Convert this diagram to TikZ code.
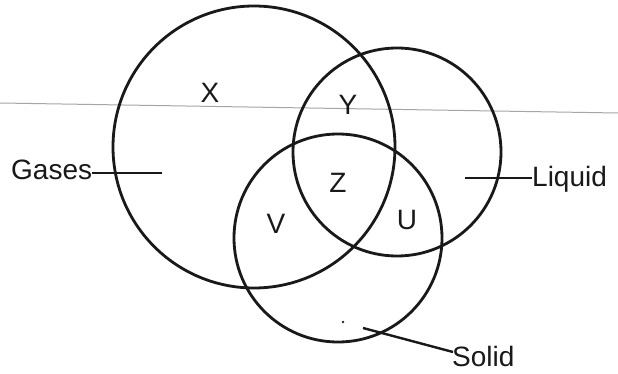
\documentclass[tikz,border=0pt]{standalone}
\usepackage{fontspec}
\setmainfont{Liberation Sans}
\begin{document}
\begin{tikzpicture}[x=1pt,y=-1pt,
  ring/.style={draw=black!90,line width=2.8pt},
  lbl/.style={font=\fontsize{28}{30}\selectfont,inner sep=0pt,text=black!90},
  reg/.style={font=\fontsize{28}{30}\selectfont,inner sep=0pt,text=black!90},
  lead/.style={draw=black!90,line width=2.4pt}]
\useasboundingbox (0,0) rectangle (618,374);
\fill[white] (0,0) rectangle (618,374);
% faint scan line
\draw[black!35,line width=1pt] (0,103) -- (618,113);
% circles
\draw[ring] (254,147) circle (141);
\draw[ring] (397,152) circle (104);
\draw[ring] (338,238) circle (104);
% region letters
\node[reg] (x) at (210,93) {X};
\node[reg] (y) at (348,105) {Y};
\node[reg] (z) at (338,183) {Z};
\node[reg] (v) at (276,224) {V};
\node[reg] (u) at (407,220) {U};
% labels
\node[lbl,anchor=base west] (gases) at (11,179) {Gases};
\node[lbl,anchor=base west] (liquid) at (532,187) {Liquid};
\node[lbl,anchor=base west] (solid) at (452,366) {Solid};
\coordinate (gl) at (162,173);
\coordinate (ll) at (465,178);
\coordinate (sl) at (363,328);
\coordinate (se) at (453,352);
\draw[lead] (gases.east |- gl) -- (gl);
\draw[lead] (liquid.west |- ll) -- (ll);
\draw[lead] (se) -- (sl);
\fill[black!85] (343,322) circle (1.4);
\end{tikzpicture}
\end{document}
